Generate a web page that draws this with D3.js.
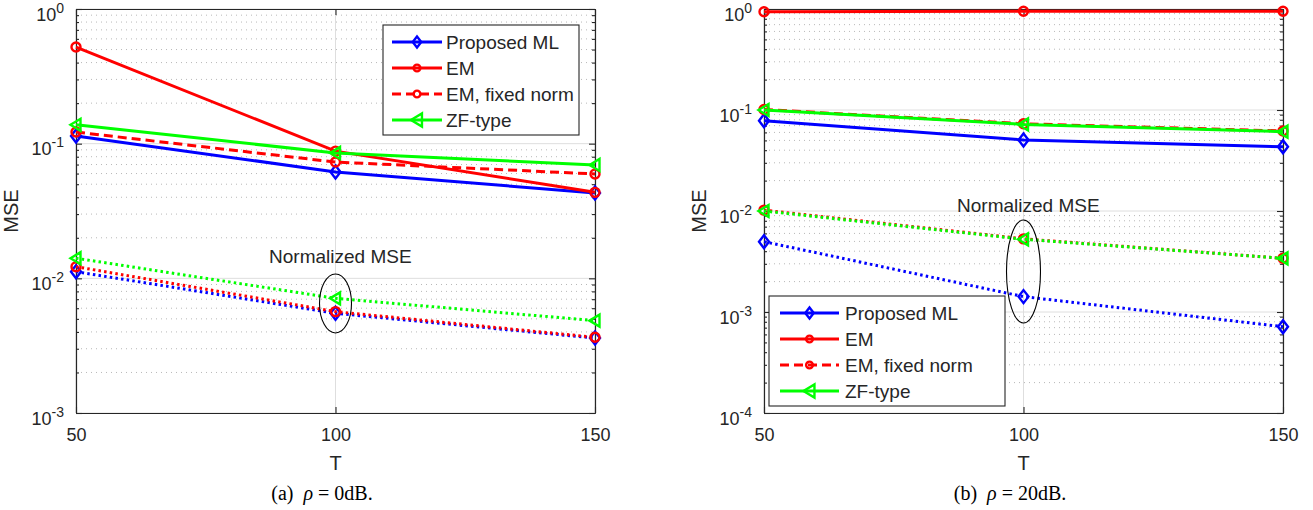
<!DOCTYPE html>
<html>
<head>
<meta charset="utf-8">
<script src="https://cdn.jsdelivr.net/npm/d3@7"></script>
<style>
body { margin: 0; background: #fff; }
text { font-family: "Liberation Sans", Arial, Helvetica, sans-serif; fill: #262626; }
.caption { font-family: "Liberation Serif", "Times New Roman", serif; fill: #000; }
</style>
</head>
<body>
<svg id="chart" width="1313" height="510"></svg>
<script>
var T = [50, 100, 150];
var names = ["Proposed ML", "EM", "EM, fixed norm", "ZF-type"];

// (a) rho = 0dB
var mlA = [0.114, 0.0617, 0.043],
    emA = [0.522, 0.088, 0.0435],
    emFixA = [0.122, 0.073, 0.0596],
    zfA = [0.138, 0.0853, 0.0695],
    mlNormA = [0.0112, 0.0055, 0.0036],
    emNormA = [0.0122, 0.00566, 0.00365],
    zfNormA = [0.0141, 0.0071, 0.00485];

// (b) rho = 20dB
var mlB = [0.0784, 0.0505, 0.0433],
    emB = [0.94, 0.95, 0.95],
    emFixB = [0.101, 0.073, 0.062],
    zfB = [0.1, 0.072, 0.061],
    mlNormB = [0.00497, 0.00142, 0.000715],
    emNormB = [0.0102, 0.0053, 0.0034],
    zfNormB = [0.0100, 0.00525, 0.0034];

var colors = ["#0000ff", "#ff0000", "#ff0000", "#00ff00"],
    markers = ["diamond", "circle", "circle", "triangle"],
    dashes = [null, null, "9,5", null];

var svg = d3.select("#chart");

function markerPath(type, s) {
  // s = 1 plot size, smaller in legend
  if (type == "diamond") return "M0," + (-6.5*s) + "L" + (5*s) + ",0L0," + (6.5*s) + "L" + (-5*s) + ",0Z";
  if (type == "triangle") return "M" + (-5.5*s) + ",0L" + (4.5*s) + "," + (-6*s) + "L" + (4.5*s) + "," + (6*s) + "Z";
  var r = 4.5*s;
  return "M" + r + ",0A" + r + "," + r + " 0 1,1 " + (-r) + ",0A" + r + "," + r + " 0 1,1 " + r + ",0Z";
}

function panel(cfg) {
  var g = svg.append("g"),
      left = cfg.left, right = cfg.left + 519, top = 9, bottom = 413;

  var x = d3.scaleLinear().domain([50, 150]).range([left, right]);
  var y = d3.scaleLog().domain(cfg.ydomain).range([bottom, top]);

  var lo = Math.round(Math.log10(cfg.ydomain[0])), hi = Math.round(Math.log10(cfg.ydomain[1]));
  var majors = d3.range(lo, hi + 1).map(function(e) { return Math.pow(10, e); });
  var minors = [];
  d3.range(lo, hi).forEach(function(e) {
    for (var k = 2; k <= 9; k++) minors.push(k * Math.pow(10, e));
  });

  // grid
  g.selectAll(".gminor").data(minors).enter().append("line")
    .attr("x1", left).attr("x2", right)
    .attr("y1", function(d) { return y(d); }).attr("y2", function(d) { return y(d); })
    .attr("stroke", "#b8b8b8").attr("stroke-width", 1).attr("stroke-dasharray", "1,4");
  g.selectAll(".gmajor").data(majors).enter().append("line")
    .attr("x1", left).attr("x2", right)
    .attr("y1", function(d) { return y(d); }).attr("y2", function(d) { return y(d); })
    .attr("stroke", "#dedede").attr("stroke-width", 1);
  g.selectAll(".gx").data(T).enter().append("line")
    .attr("x1", function(d) { return x(d); }).attr("x2", function(d) { return x(d); })
    .attr("y1", top).attr("y2", bottom)
    .attr("stroke", "#dedede").attr("stroke-width", 1);

  // axes
  var ax = g.append("g").attr("transform", "translate(0," + bottom + ")")
    .call(d3.axisBottom(x).tickValues(T).tickSizeInner(-6).tickSizeOuter(0).tickPadding(15).tickFormat(d3.format("d")));
  ax.selectAll("text").style("font-size", "18px");
  g.append("g").attr("transform", "translate(0," + top + ")")
    .call(d3.axisTop(x).tickValues(T).tickSizeInner(-6).tickSizeOuter(0).tickFormat(""));

  var ay = g.append("g").attr("transform", "translate(" + left + ",0)")
    .call(d3.axisLeft(y).tickValues(majors).tickSizeInner(-6).tickSizeOuter(0).tickPadding(12));
  ay.selectAll("text").each(function(d) {
    var t = d3.select(this).text("").attr("dy", "0.62em").style("font-size", "18px");
    t.append("tspan").text("10");
    t.append("tspan").text(Math.round(Math.log10(d))).style("font-size", "14px").attr("dy", "-0.58em");
  });
  g.append("g").attr("transform", "translate(" + left + ",0)")
    .call(d3.axisLeft(y).tickValues(minors).tickSizeInner(-3).tickSizeOuter(0).tickFormat(""));
  g.append("g").attr("transform", "translate(" + right + ",0)")
    .call(d3.axisRight(y).tickValues(majors).tickSizeInner(-6).tickSizeOuter(0).tickFormat(""));
  g.append("g").attr("transform", "translate(" + right + ",0)")
    .call(d3.axisRight(y).tickValues(minors).tickSizeInner(-3).tickSizeOuter(0).tickFormat(""));
  g.selectAll(".domain, .tick line").attr("stroke", "#262626").attr("stroke-width", 1.1);

  // axis labels
  g.append("text").attr("x", x(100)).attr("y", 470).attr("text-anchor", "middle")
    .style("font-size", "20px").text("T");
  g.append("text").attr("transform", "translate(" + (left - 58) + "," + ((top + bottom) / 2) + ") rotate(-90)")
    .attr("text-anchor", "middle").style("font-size", "20px").text("MSE");

  // lines
  var line = d3.line().x(function(d, i) { return x(T[i]); }).y(function(d) { return y(d); });
  cfg.series.forEach(function(s) {
    g.append("path").datum(s.vals).attr("d", line)
      .attr("fill", "none").attr("stroke", colors[s.k]).attr("stroke-width", 3)
      .attr("stroke-dasharray", s.dotted ? "2.5,3.2" : dashes[s.k]);
    g.selectAll(null).data(s.vals).enter().append("path")
      .attr("transform", function(d, i) { return "translate(" + x(T[i]) + "," + y(d) + ")"; })
      .attr("d", markerPath(markers[s.k], 1))
      .attr("fill", "none").attr("stroke", colors[s.k]).attr("stroke-width", 2.4);
  });

  // annotation
  g.append("ellipse").attr("cx", x(100)).attr("cy", y(cfg.ell[0]))
    .attr("rx", cfg.ell[1]).attr("ry", cfg.ell[2])
    .attr("fill", "none").attr("stroke", "#000").attr("stroke-width", 1.1);
  g.append("text").attr("x", x(cfg.note[0])).attr("y", y(cfg.note[1]))
    .style("font-size", "19px").attr("fill", "#000").text("Normalized MSE");

  // legend
  var L = cfg.legend;
  var lg = g.append("g").attr("transform", "translate(" + L.x + "," + L.y + ")");
  lg.append("rect").attr("width", L.w).attr("height", 110)
    .attr("fill", "#fff").attr("stroke", "#262626").attr("stroke-width", 1.1);
  names.forEach(function(n, i) {
    var yy = 17 + i * 26;
    lg.append("line").attr("x1", L.l0).attr("x2", L.l1).attr("y1", yy).attr("y2", yy)
      .attr("stroke", colors[i]).attr("stroke-width", 3).attr("stroke-dasharray", dashes[i]);
    lg.append("path").attr("transform", "translate(" + ((L.l0 + L.l1) / 2) + "," + yy + ")")
      .attr("d", markerPath(markers[i], i == 0 ? 0.85 : (i == 3 ? 1.1 : 0.75)))
      .attr("fill", "none").attr("stroke", colors[i]).attr("stroke-width", 2.4);
    lg.append("text").attr("x", L.tx).attr("y", yy + 7).style("font-size", "19px")
      .attr("fill", "#000").text(n);
  });

  // caption
  var c = g.append("text").attr("class", "caption").attr("x", cfg.capX).attr("y", 500)
    .attr("text-anchor", "middle").style("font-size", "20px");
  c.append("tspan").text(cfg.cap[0] + "\u2002");
  c.append("tspan").style("font-style", "italic").text("\u03c1");
  c.append("tspan").text(" = " + cfg.cap[1]);
}

panel({
  left: 76, ydomain: [1e-3, 1],
  series: [
    {vals: mlA, k: 0}, {vals: emA, k: 1}, {vals: emFixA, k: 2}, {vals: zfA, k: 3},
    {vals: mlNormA, k: 0, dotted: true}, {vals: emNormA, k: 1, dotted: true}, {vals: zfNormA, k: 3, dotted: true}
  ],
  ell: [0.00651, 16, 29.5], note: [87.2, 0.0130],
  legend: {x: 383, y: 25, w: 196, l0: 9, l1: 59, tx: 63},
  cap: ["(a)", "0dB."], capX: 322
});

panel({
  left: 764, ydomain: [1e-4, 1],
  series: [
    {vals: mlB, k: 0}, {vals: emB, k: 1}, {vals: emFixB, k: 2}, {vals: zfB, k: 3},
    {vals: mlNormB, k: 0, dotted: true}, {vals: emNormB, k: 1, dotted: true}, {vals: zfNormB, k: 3, dotted: true}
  ],
  ell: [0.00252, 17, 51.5], note: [87.2, 0.00977],
  legend: {x: 769, y: 296, w: 236, l0: 11, l1: 70, tx: 76},
  cap: ["(b)", "20dB."], capX: 1010
});
</script>
</body>
</html>
